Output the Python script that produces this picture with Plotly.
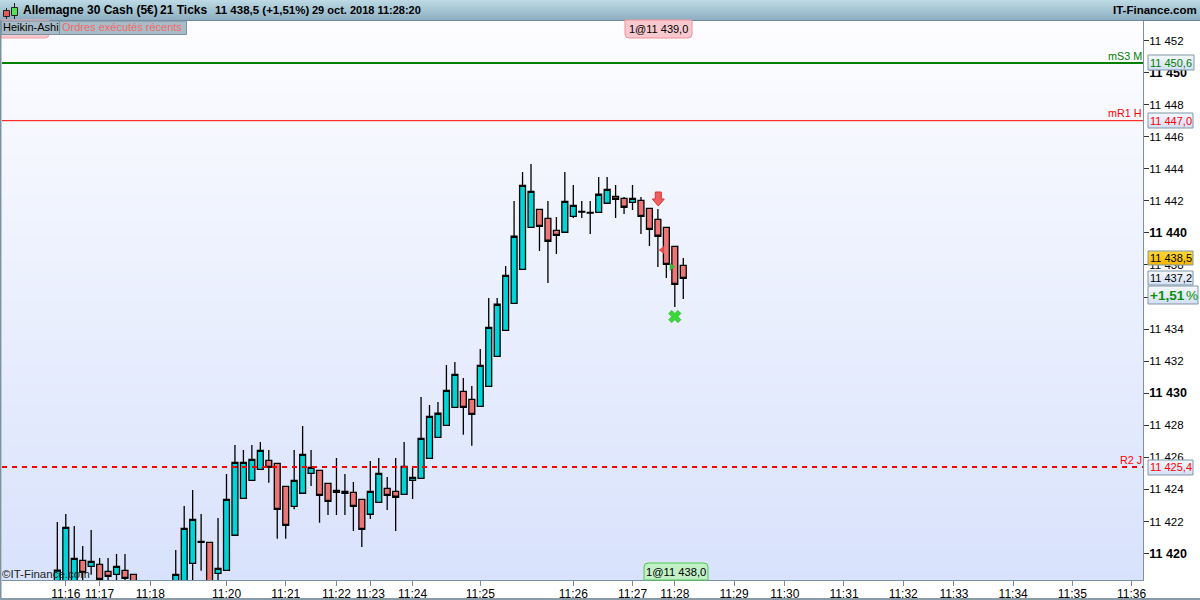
import plotly.graph_objects as go

# ---- data (prices) ----
idx = [0,1,2,3,4,5,6,7,8,9,
       14,15,16,17,18,19,20,21,22,23,24,25,26,27,28,29,30,31,32,33,34,35,36,37,38,39,40,41,42,
       43,44,45,46,47,48,49,50,51,52,53,54,55,56,57,58,59,60,61,62,63,64,65,66,67,68,69,70,71,72,73,74]
opens = [11417.5,11417.5,11418.0,11419.58,11419.20,11419.33,11418.89,11418.70,11418.95,11418.70,
         11417.5,11417.8,11419.39,11420.75,11420.70,11418.76,11418.95,11421.14,11423.44,11424.57,11425.25,11425.81,11425.63,11424.19,11422.94,11423.76,11425.00,11425.19,11424.38,11423.82,11423.88,11423.82,11423.38,11422.45,11423.19,11424.07,11423.88,11423.69,11424.57,
         11424.69,11425.94,11427.25,11428.00,11429.12,11430.12,11429.62,11429.18,11430.43,11432.30,11433.92,11435.61,11437.73,11440.35,11441.47,11440.91,11440.16,11440.04,11441.03,11441.34,11441.28,11441.28,11441.85,11442.28,11442.16,11441.91,11442.03,11441.53,11440.85,11440.35,11439.16,11437.98]
highs = [11421.97,11422.46,11421.72,11420.47,11421.47,11419.72,11419.72,11419.97,11419.97,11418.70,
         11420.22,11422.96,11423.96,11422.46,11420.70,11422.21,11424.96,11426.77,11426.46,11426.77,11426.96,11426.46,11425.63,11424.19,11426.46,11427.95,11426.46,11425.19,11424.38,11425.96,11424.96,11424.46,11423.38,11425.77,11425.96,11424.77,11425.96,11426.96,11425.40,
         11429.76,11429.26,11429.45,11431.76,11431.95,11430.95,11430.45,11432.76,11435.94,11435.94,11437.93,11441.99,11443.80,11444.30,11441.47,11441.99,11440.99,11443.80,11442.99,11441.99,11441.99,11443.49,11443.49,11442.99,11442.24,11442.99,11442.24,11441.53,11441.49,11440.35,11439.16,11438.43]
lows = [11417.0,11417.0,11418.0,11418.0,11418.68,11418.0,11418.2,11418.2,11418.2,11417.3,
        11417.3,11417.5,11418.28,11418.93,11417.3,11418.28,11418.95,11421.14,11423.44,11424.57,11425.25,11424.42,11420.92,11420.92,11422.76,11423.76,11424.21,11421.92,11422.40,11422.40,11422.40,11421.40,11420.41,11422.15,11423.19,11422.71,11421.40,11423.69,11423.40,
        11424.69,11425.94,11427.25,11428.00,11429.12,11427.41,11426.72,11429.18,11430.43,11432.30,11433.92,11435.61,11437.73,11440.35,11438.87,11436.87,11438.68,11440.04,11440.93,11440.93,11439.93,11441.28,11441.85,11440.93,11441.18,11441.43,11439.93,11439.18,11437.87,11437.19,11435.38,11435.88]
closes = [11418.97,11421.63,11419.70,11418.83,11419.51,11418.39,11418.58,11419.20,11418.45,11417.5,
          11418.70,11421.57,11422.13,11420.70,11417.5,11419.08,11423.38,11425.69,11425.69,11425.88,11426.44,11425.38,11422.76,11421.76,11424.57,11426.19,11425.38,11423.63,11423.26,11423.94,11423.76,11422.94,11421.51,11423.88,11425.00,11423.63,11423.51,11425.44,11424.75,
          11427.19,11428.56,11428.75,11430.18,11431.18,11429.12,11428.68,11431.74,11434.11,11435.55,11437.35,11439.79,11442.97,11442.59,11440.41,11439.48,11439.85,11441.97,11441.72,11441.29,11441.23,11442.41,11442.72,11442.10,11441.60,11442.16,11441.03,11440.22,11439.79,11438.04,11436.79,11437.17]

level_names = ["mS3 M", "mR1 H", "R2 J"]
level_values = [11450.6, 11447.0, 11425.4]
level_colors = ["#008000", "#ff0000", "#ff0000"]
level_label_px = [56, 113, 460]

xtick_idx = [1,5,11,20,27,33,37,42,50,61,68,73,80,86,93,100,106,113,120,127]
xtick_text = ["11:16","11:17","11:18","11:20","11:21","11:22","11:23","11:24","11:25","11:26",
              "11:27","11:28","11:29","11:30","11:31","11:32","11:33","11:34","11:35","11:36"]
ytick_vals = list(range(11420, 11454, 2))
ytick_text = [(f"<span style='font-size:12.5px'><b>11 {v-11000}</b></span>" if v % 10 == 0 else f"11 {v-11000}") for v in ytick_vals]

# order markers
red_tri = (71.5, 11438.93)
green_tri = (72.6, 11437.89)
green_cross = (73.0, 11434.78)

# ---- layout constants ----
W, H = 1200, 600
L, R, T, B = 2, 1143, 20, 580
X_RANGE = [-6.54, 128.35]
Y_RANGE = [11418.35, 11453.28]
FONT = "Liberation Sans, Arial, sans-serif"

def px(x): return (x - L) / (R - L)
def py(y): return (B - y) / (B - T)

shapes, annos = [], []

def rect(x0, y0, x1, y1, fill, line=None, lw=1):
    shapes.append(dict(type="rect", xref="paper", yref="paper", layer="above",
                       x0=px(x0), x1=px(x1), y0=py(y0), y1=py(y1), fillcolor=fill,
                       line=dict(color=line or "rgba(0,0,0,0)", width=lw if line else 0)))

def hexmix(a, b, t):
    ca = [int(a[i:i+2], 16) for i in (1, 3, 5)]
    cb = [int(b[i:i+2], 16) for i in (1, 3, 5)]
    return "#%02x%02x%02x" % tuple(round(p + (q - p) * t) for p, q in zip(ca, cb))

def grad_rect(x0, y0, x1, y1, c0, c1, line=None, lw=1):
    n = int(y1 - y0)
    for i in range(n):
        rect(x0, y0 + i, x1, y0 + i + 1, hexmix(c0, c1, i / max(n - 1, 1)))
    if line:
        shapes.append(dict(type="rect", xref="paper", yref="paper", layer="above",
                           x0=px(x0), x1=px(x1), y0=py(y0), y1=py(y1),
                           line=dict(color=line, width=lw)))

def text(x, y, s, color="#000000", size=11, anchor="left"):
    annos.append(dict(xref="paper", yref="paper", x=px(x), y=py(y), text=s, showarrow=False,
                      xanchor=anchor, yanchor="middle", borderpad=0, borderwidth=0,
                      font=dict(family=FONT, size=size, color=color)))

def path(points, fill, line, lw=1):
    shapes.append(dict(type="path", xref="paper", yref="paper", layer="above", path=points,
                       fillcolor=fill, line=dict(color=line, width=lw)))

def tab(x0, y0, x1, y1, r, fill, line, top_round):
    a, b, c, d = px(x0), px(x1), py(y0), py(y1)
    rx, ry = r / (R - L), r / (B - T)
    if top_round:
        p = f"M{a},{d} L{a},{c-ry} Q{a},{c} {a+rx},{c} L{b-rx},{c} Q{b},{c} {b},{c-ry} L{b},{d} Z"
    else:
        p = f"M{a},{c} L{a},{d+ry} Q{a},{d} {a+rx},{d} L{b-rx},{d} Q{b},{d} {b},{d+ry} L{b},{c} Z"
    path(p, fill, line)

# header bar
grad_rect(0, 0, W, 20, "#bcd9e5", "#8fb0c2")
rect(0, 20, W, 21, "#6f8797")
# header icon
shapes.append(dict(type="line", xref="paper", yref="paper", layer="above", x0=px(6.5), x1=px(6.5), y0=py(8), y1=py(19), line=dict(color="#222222", width=1)))
rect(3.5, 10.5, 9.5, 16.5, "#e85a5a", "#222222")
shapes.append(dict(type="line", xref="paper", yref="paper", layer="above", x0=px(14.5), x1=px(14.5), y0=py(3), y1=py(19), line=dict(color="#222222", width=1)))
rect(11.5, 7.5, 17.5, 15.5, "#55e055", "#222222")
text(23, 10.5, "<b>Allemagne 30 Cash (5€)</b>", size=12)
text(160, 10.5, "<b>21 Ticks</b>", size=12)
text(215, 10.5, "<b>11 438,5 (+1,51%)</b>", size=11.5)
text(312, 10.5, "<b>29 oct. 2018 11:28:20</b>", size=11)
text(1197, 10.5, "<b>IT-Finance.com</b>", size=11.5, anchor="right")

# order tabs
tab(-2, 20, 49, 38, 4, "#f7c9ce", "#f0a0aa", False)
tab(625, 20, 692, 38, 4, "#f7c9ce", "#f0909c", False)
text(658.5, 29, "1@11 439,0", anchor="center")
tab(644, 563, 708, 580, 4, "#c2f0c6", "#52c852", True)
text(676, 572, "1@11 438,0", size=11.2, anchor="center")

# indicator tabs
rect(1.5, 21, 59.5, 34.5, "#a9bbc6", "#7a92a2")
text(2.5, 27.5, "Heikin-Ashi")
rect(59.5, 21, 186.5, 34.5, "#a9bbc6", "#7a92a2")
text(62, 27.5, "Ordres exécutés récents", color="#f26a6a")

# level names
for name, col, y in zip(level_names, level_colors, level_label_px):
    text(1142, y, name, color=col, size=10.8, anchor="right")

# price boxes
grad_rect(1148, 55, 1194, 70, "#f4f7ff", "#d5e0f5", "#7f97a5")
text(1150, 63, "11 450,6", color="#008000")
grad_rect(1148, 113, 1193, 128, "#f4f7ff", "#d5e0f5", "#7f97a5")
text(1150, 120.5, "11 447,0", color="#ff0000")
grad_rect(1148, 251, 1193, 265, "#ffd83a", "#f5b800", "#7f97a5")
text(1150, 258, "11 438,5")
grad_rect(1148, 271, 1193, 285, "#f4f7ff", "#d5e0f5", "#7f97a5")
text(1150, 278, "11 437,2")
grad_rect(1148, 286, 1198, 304, "#f4f7ff", "#d5e0f5", "#7f97a5")
text(1150, 295.5, "<b>+1,51</b>", color="#0a900a", size=13.5)
text(1186, 295.5, "%", color="#0a900a", size=13.5)
grad_rect(1148, 460, 1193, 475, "#f4f7ff", "#d5e0f5", "#7f97a5")
text(1150, 467.5, "11 425,4", color="#ff0000")

# borders
rect(0, 20, 1.5, 600, "#7a92a2")
rect(0, 598, W, 600, "#8a9ba8")

# watermark
text(2, 574, "©IT-Finance.com", color="#222222", size=11.5)

# red down arrow (order marker)
ax = 658.3
ay0 = 192
path(f"M{px(ax-3)},{py(ay0)} L{px(ax+3)},{py(ay0)} L{px(ax+3)},{py(ay0+7)} L{px(ax+6)},{py(ay0+7)} "
     f"L{px(ax)},{py(ay0+14)} L{px(ax-6)},{py(ay0+7)} L{px(ax-3)},{py(ay0+7)} Z",
     "#f06060", "#e03030", 1)

fig = go.Figure()

# background gradient (heatmap layer sits under the candles)
fig.add_trace(go.Heatmap(
    x=X_RANGE, y=Y_RANGE, z=[[0, 0], [1, 1]], zsmooth="best", showscale=False, hoverinfo="skip",
    colorscale=[[0, "#d8e2fc"], [1, "#fdfdff"]]))

fig.add_trace(go.Candlestick(
    x=idx, open=opens, high=highs, low=lows, close=closes, whiskerwidth=0, showlegend=False,
    increasing=dict(fillcolor="#00d4d6", line=dict(color="#000000", width=1.3)),
    decreasing=dict(fillcolor="#ec7676", line=dict(color="#000000", width=1.3))))

for v, col, w, dash in zip(level_values, level_colors, [2, 1, 2], ["solid", "solid", "5px,5px"]):
    fig.add_trace(go.Scatter(x=X_RANGE, y=[v, v], mode="lines", showlegend=False,
                             line=dict(color=col, width=w, dash=dash), hoverinfo="skip"))

fig.add_trace(go.Scatter(x=[red_tri[0]], y=[red_tri[1]], mode="markers", showlegend=False,
                         marker=dict(symbol="triangle-left", size=7, color="#f05050")))
fig.add_trace(go.Scatter(x=[green_tri[0]], y=[green_tri[1]], mode="markers", showlegend=False,
                         marker=dict(symbol="triangle-right", size=7, color="#30c030")))
fig.add_trace(go.Scatter(x=[green_cross[0]], y=[green_cross[1]], mode="markers", showlegend=False,
                         marker=dict(symbol="x", size=11, color="#38d838",
                                     line=dict(color="#22aa22", width=0.5))))

fig.update_layout(
    width=W, height=H, margin=dict(l=L, r=W - R, t=T, b=H - B, autoexpand=False),
    paper_bgcolor="#ffffff", plot_bgcolor="#ffffff", showlegend=False, boxgap=0.0,
    font=dict(family=FONT, size=12, color="#000000"),
    shapes=shapes, annotations=annos,
    xaxis=dict(range=X_RANGE, tickmode="array", tickvals=xtick_idx, ticktext=xtick_text,
               ticks="outside", ticklen=5, tickcolor="#7a8a96", showgrid=False, zeroline=False,
               showline=True, linecolor="#7a92a2", linewidth=1, rangeslider=dict(visible=False),
               ticklabelstandoff=-2,
               tickfont=dict(family=FONT, size=12, color="#000000")),
    yaxis=dict(range=Y_RANGE, side="right", tickmode="array", tickvals=ytick_vals, ticktext=ytick_text,
               ticks="outside", ticklen=5, tickcolor="#333333", showgrid=False, zeroline=False,
               showline=True, linecolor="#7a92a2", linewidth=1, ticklabelstandoff=-2,
               tickfont=dict(family=FONT, size=11.5, color="#000000")),
)

fig.write_html("out.html", config=dict(displayModeBar=False),
               post_script="document.body.style.margin='0';document.body.style.overflow='hidden';")
